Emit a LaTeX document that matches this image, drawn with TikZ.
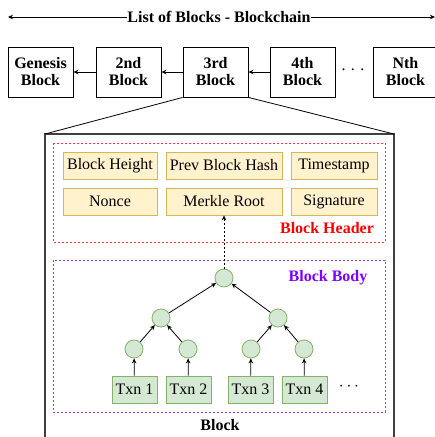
\documentclass[tikz,border=0pt]{standalone}
\usepackage{fontspec}
\setmainfont{Liberation Serif}
\usetikzlibrary{arrows.meta}
\definecolor{hdrfill}{HTML}{FFF2CC}
\definecolor{hdrline}{HTML}{D6B656}
\definecolor{grnfill}{HTML}{D5E8D4}
\definecolor{grnline}{HTML}{82B366}
\definecolor{hdrred}{HTML}{FF3333}
\definecolor{bodypurple}{HTML}{9933FF}
\definecolor{bodytext}{HTML}{7F00FF}
\tikzset{
  blk/.style={draw, line width=0.9pt, minimum width=65pt, minimum height=50pt, inner sep=0pt, align=center, font=\fontsize{16}{17}\selectfont\bfseries},
  fld/.style={draw=hdrline, fill=hdrfill, line width=0.8pt, minimum height=27pt, inner sep=0pt, font=\fontsize{16}{18}\selectfont},
  txn/.style={draw=grnline, fill=grnfill, line width=0.8pt, minimum width=45pt, minimum height=27pt, inner sep=0pt, font=\fontsize{16}{18}\selectfont},
  hashc/.style={circle, draw=grnline, fill=grnfill, line width=0.8pt, minimum size=18pt, inner sep=0pt},
  arr/.style={-{Stealth[length=5pt,width=4.5pt]}, line width=0.8pt},
  lbl/.style={inner sep=0pt, font=\fontsize{16}{18}\selectfont\bfseries}
}
\begin{document}
\begin{tikzpicture}[x=1pt,y=-1pt]
\useasboundingbox (0,0) rectangle (435,437);
\clip (0,0) rectangle (435,437);
% top arrow
\node[lbl] (title) at (219,17) {List of Blocks - Blockchain};
\coordinate (tl) at (8,17);
\coordinate (tr) at (435,17);
\draw[arr] (title.west) -- (tl);
\draw[arr] (title.east) -- (tr);
% blocks row
\node[blk] (gen) at (40.5,72) {Genesis\\Block};
\node[blk] (b2) at (128.5,72) {2nd\\Block};
\node[blk] (b3) at (215.5,72) {3rd\\Block};
\node[blk] (b4) at (302.5,72) {4th\\Block};
\node[blk] (bn) at (405.5,72) {Nth\\Block};
\node[inner sep=0pt, font=\fontsize{16}{18}\selectfont] (dots1) at (353,70) {. . .};
\draw[arr] (b2.west) -- (gen.east);
\draw[arr] (b3.west) -- (b2.east);
\draw[arr] (b4.west) -- (b3.east);
% zoomed block
\coordinate (bigtl) at (45,134);
\coordinate (bigtr) at (394,134);
\draw[line width=1.2pt, draw=black!75] (45,460) -- (bigtl) -- (bigtr) -- (394,460);
\draw[line width=0.8pt] (b3.south west) -- (bigtl);
\draw[line width=0.8pt] (b3.south east) -- (bigtr);
% header
\draw[hdrred, dashed, dash pattern=on 2pt off 2pt, line width=0.8pt] (53,143) rectangle (385,242);
\node[fld, minimum width=94pt] (bh) at (110,165.5) {Block Height};
\node[fld, minimum width=116pt] (pbh) at (224,165.5) {Prev Block Hash};
\node[fld, minimum width=86pt] (ts) at (334,165.5) {Timestamp};
\node[fld, minimum width=94pt] (nonce) at (110,201.5) {Nonce};
\node[fld, minimum width=116pt] (mr) at (224,201.5) {Merkle Root};
\node[fld, minimum width=86pt] (sig) at (334,201.5) {Signature};
\node[lbl, text=red] (hdrlbl) at (327,228) {Block Header};
% body
\draw[bodypurple, dashed, dash pattern=on 2pt off 2pt, line width=0.8pt] (53,260) rectangle (385,412);
\node[lbl, text=bodytext] (bodylbl) at (328,278) {Block Body};
\node[hashc] (root) at (224,278) {};
\node[hashc] (l2a) at (161,318) {};
\node[hashc] (l2b) at (278,318) {};
\node[hashc] (l3a) at (134,349) {};
\node[hashc] (l3b) at (188,349) {};
\node[hashc] (l3c) at (251,349) {};
\node[hashc] (l3d) at (304,349) {};
\node[txn] (t1) at (134.5,389.5) {Txn 1};
\node[txn] (t2) at (188.5,389.5) {Txn 2};
\node[txn] (t3) at (250.5,389.5) {Txn 3};
\node[txn] (t4) at (304.5,389.5) {Txn 4};
\node[inner sep=0pt, font=\fontsize{16}{18}\selectfont] (dots2) at (349,387) {$\cdots$};
\draw[arr] (t1) -- (l3a);
\draw[arr] (t2) -- (l3b);
\draw[arr] (t3) -- (l3c);
\draw[arr] (t4) -- (l3d);
\draw[arr] (l3a) -- (l2a);
\draw[arr] (l3b) -- (l2a);
\draw[arr] (l3c) -- (l2b);
\draw[arr] (l3d) -- (l2b);
\draw[arr] (l2a) -- (root);
\draw[arr] (l2b) -- (root);
\draw[arr, dashed, dash pattern=on 2pt off 2pt, line width=0.6pt] (root) -- (mr);
\node[lbl] (blocklbl) at (220,425) {Block};
\end{tikzpicture}
\end{document}
